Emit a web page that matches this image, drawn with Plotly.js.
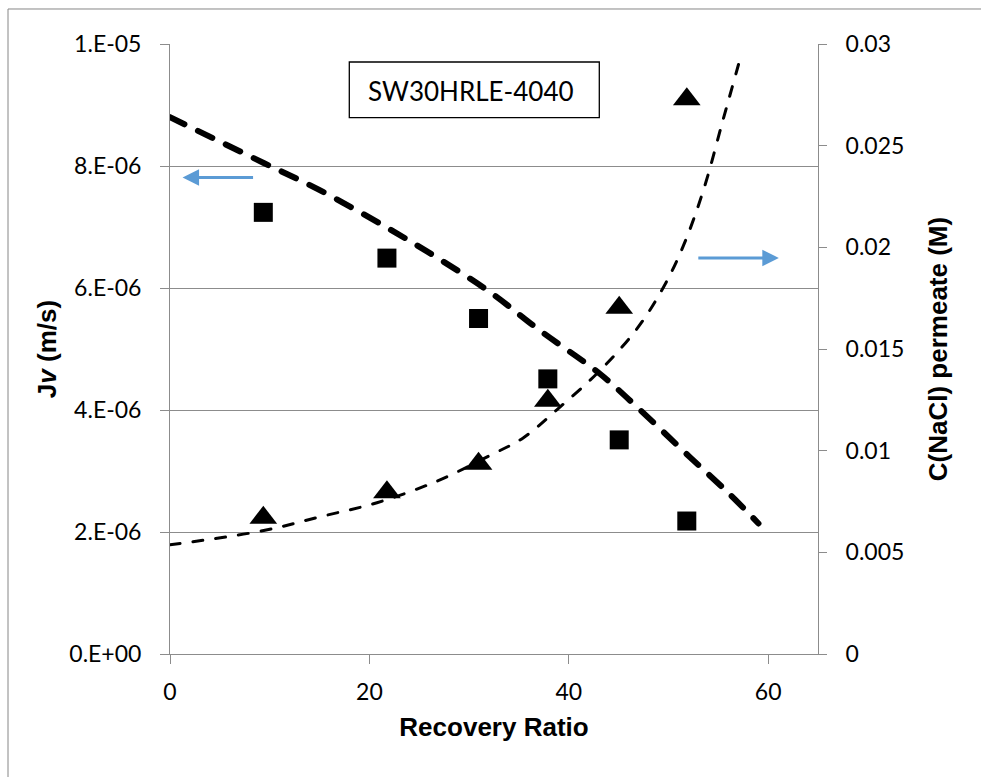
<!DOCTYPE html>
<html>
<head>
<meta charset="utf-8">
<script src="https://cdn.plot.ly/plotly-3.0.1.min.js"></script>
<style>
  html, body { margin: 0; padding: 0; background: #fff; }
  #chart { width: 981px; height: 777px; }
  .scatterlayer .js-line { stroke-linecap: round; }
</style>
</head>
<body>
<div id="chart"></div>
<script>
// ---- data ----
const recovery = [9.36, 21.76, 30.95, 37.9, 45.06, 51.84];
const jvMeasured = [7.24e-6, 6.49e-6, 5.50e-6, 4.51e-6, 3.51e-6, 2.18e-6];
const cPermeate = [0.0067, 0.00796, 0.00936, 0.01246, 0.01703, 0.02728];

const jvFitX = [0, 9.4, 15.07, 21.76, 26.77, 32.12, 37.13, 43.15, 47.16, 52.2, 56.2, 59.03];
const jvFitY = [8.8e-6, 8.05e-6, 7.60e-6, 6.99e-6, 6.50e-6, 5.93e-6, 5.30e-6, 4.59e-6, 4.00e-6, 3.22e-6, 2.61e-6, 2.14e-6];

const cFitX = [0, 9.4, 15.07, 20.76, 26.77, 32.12, 35.46, 38.8, 43.15, 46.83, 49.5, 51.5, 53.5, 55.5, 57.36];
const cFitY = [0.00537, 0.00607, 0.00675, 0.00744, 0.0085, 0.00977, 0.01064, 0.01201, 0.01395, 0.01599, 0.01804, 0.02008, 0.0228, 0.02631, 0.02958];

const xTickVals = [0, 20, 40, 60];
const xTickText = ['0', '20', '40', '60'];
const yTickVals = [0, 2e-6, 4e-6, 6e-6, 8e-6, 1e-5];
const yTickText = ['0.E+00', '2.E-06', '4.E-06', '6.E-06', '8.E-06', '1.E-05'];
const y2TickVals = [0, 0.005, 0.01, 0.015, 0.02, 0.025, 0.03];
const y2TickText = ['0', '0.005', '0.01', '0.015', '0.02', '0.025', '0.03'];

const boxLabel = 'SW30HRLE-4040';
const xTitle = '<b>Recovery Ratio</b>';
const yTitle = '<b>J<i>v</i> (m/s)</b>';
const y2Title = '<b>C(NaCl) permeate (M)</b>';

// ---- styling ----
const gridGray = '#8c8c8c';
const tickFont = { family: 'Lato, "Open Sans", sans-serif', size: 23, color: '#000' };
const titleFont = { family: '"Liberation Sans", Arial, sans-serif', size: 26, color: '#000' };
const arrowBlue = '#5B9BD5';

const traces = [
  {
    x: jvFitX, y: jvFitY, type: 'scatter', mode: 'lines', yaxis: 'y',
    line: { color: '#000', width: 6, dash: '16px,15px', shape: 'spline' },
    hoverinfo: 'skip'
  },
  {
    x: cFitX, y: cFitY, type: 'scatter', mode: 'lines', yaxis: 'y2',
    line: { color: '#000', width: 3, dash: '10px,13px', shape: 'spline' },
    hoverinfo: 'skip'
  },
  {
    x: recovery, y: jvMeasured, type: 'scatter', mode: 'markers', yaxis: 'y',
    marker: { symbol: 'square', size: 19, color: '#000' }
  },
  {
    x: recovery, y: cPermeate, type: 'scatter', mode: 'markers', yaxis: 'y2',
    marker: { symbol: 'triangle-up', size: 24, color: '#000' }
  }
];

const layout = {
  width: 981, height: 777,
  margin: { l: 170, r: 163, t: 44, b: 123 },
  paper_bgcolor: '#fff', plot_bgcolor: '#fff',
  showlegend: false,
  xaxis: {
    range: [0, 65], tickvals: xTickVals, ticktext: xTickText,
    ticks: 'outside', ticklen: 9, tickcolor: gridGray, tickwidth: 1,
    showline: true, linecolor: gridGray, linewidth: 1,
    showgrid: false, zeroline: false,
    tickfont: tickFont, ticklabelstandoff: 8,
    title: { text: xTitle, font: titleFont, standoff: 14 }
  },
  yaxis: {
    range: [0, 1e-5], tickvals: yTickVals, ticktext: yTickText,
    ticks: 'outside', ticklen: 9, tickcolor: gridGray, tickwidth: 1,
    showline: true, linecolor: gridGray, linewidth: 1,
    showgrid: true, gridcolor: gridGray, gridwidth: 1, zeroline: false,
    tickfont: tickFont, ticklabelstandoff: 14,
    title: { text: yTitle, font: titleFont, standoff: 5 }
  },
  yaxis2: {
    overlaying: 'y', side: 'right',
    range: [0, 0.03], tickvals: y2TickVals, ticktext: y2TickText,
    ticks: 'outside', ticklen: 8, tickcolor: gridGray, tickwidth: 1,
    showline: true, linecolor: gridGray, linewidth: 1,
    showgrid: false, zeroline: false,
    tickfont: tickFont, ticklabelstandoff: 14,
    title: { text: y2Title, font: titleFont, standoff: 25 }
  },
  shapes: [
    // outer chart frame (left and top edges visible in the crop)
    { type: 'line', xref: 'paper', yref: 'paper', x0: -0.25, x1: -0.25, y0: -0.21, y1: 1.0574,
      line: { color: '#868686', width: 1 } },
    { type: 'line', xref: 'paper', yref: 'paper', x0: -0.25, x1: 1.26, y0: 1.0574, y1: 1.0574,
      line: { color: '#868686', width: 1 } },
    // label box
    { type: 'rect', xref: 'paper', yref: 'paper', x0: 0.2767, x1: 0.6625, y0: 0.8792, y1: 0.9705,
      line: { color: '#000', width: 1.3 }, fillcolor: '#fff', layer: 'above' }
  ],
  annotations: [
    { xref: 'paper', yref: 'paper', x: 0.4641, y: 0.9226, xanchor: 'center', yanchor: 'middle',
      text: boxLabel, showarrow: false, font: { family: 'Lato, "Open Sans", sans-serif', size: 26, color: '#000' } },
    { xref: 'x', yref: 'y', x: 1.26, y: 7.81e-6, ax: 72, ay: 0, text: '', showarrow: true,
      arrowhead: 2, arrowsize: 1.1, arrowwidth: 3, arrowcolor: arrowBlue },
    { xref: 'x', yref: 'y2', x: 61.07, y: 0.01948, ax: -82, ay: 0, text: '', showarrow: true,
      arrowhead: 2, arrowsize: 1.1, arrowwidth: 3, arrowcolor: arrowBlue }
  ]
};

Plotly.newPlot('chart', traces, layout, { displayModeBar: false, staticPlot: true });
</script>
</body>
</html>
